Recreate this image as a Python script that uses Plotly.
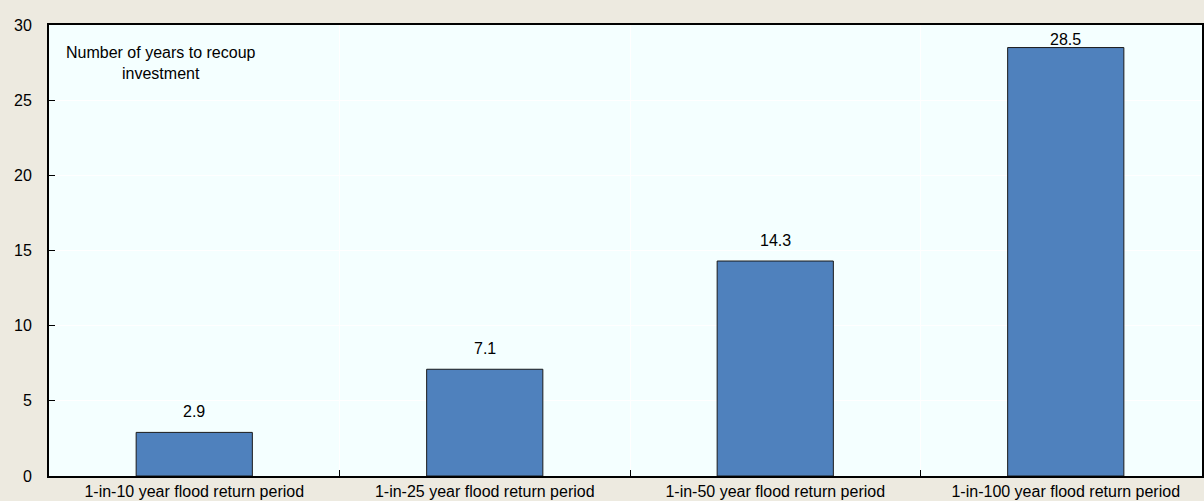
import plotly.graph_objects as go

categories = ["1-in-10 year flood return period", "1-in-25 year flood return period",
              "1-in-50 year flood return period", "1-in-100 year flood return period"]
values = [2.9, 7.1, 14.3, 28.5]
labels = ["2.9", "7.1", "14.3", "28.5"]
y_ticks = [0, 5, 10, 15, 20, 25, 30]

FONT = "Liberation Sans Narrow, Arial Narrow, Liberation Sans, Arial, sans-serif"
PAPER = "#EDEAE0"
PLOT = "#F4FFFF"
FS = 16

fig = go.Figure()
fig.add_trace(go.Bar(
    x=categories, y=values, width=0.4,
    marker=dict(color="#4F81BD", line=dict(color="#1a1a1a", width=1)),
    showlegend=False, hoverinfo="skip",
))

for c, v, t in zip(categories, values, labels):
    fig.add_annotation(x=c, y=v, text=t, showarrow=False, yanchor="middle",
                       yshift=21 if v < 27 else 8,
                       font=dict(family=FONT, size=FS, color="#000"))

fig.add_annotation(xref="paper", yref="paper", x=0.097, y=0.962, xanchor="center", yanchor="top",
                   text="Number of years to recoup<br>investment", showarrow=False, align="center",
                   font=dict(family=FONT, size=FS, color="#000"))

fig.update_layout(
    width=1204, height=501,
    margin=dict(l=49, r=0, t=25, b=25),
    paper_bgcolor=PAPER, plot_bgcolor=PLOT,
    font=dict(family=FONT, size=FS, color="#000"),
    bargap=0.6,
)
fig.update_xaxes(
    type="category", range=[-0.5, 3.469], tickson="boundaries",
    ticks="inside", ticklen=6, tickcolor="#000", tickwidth=1,
    showgrid=True, gridcolor="#FFFFFF", gridwidth=1,
    showline=True, linecolor="#000", linewidth=2, mirror=True,
    tickfont=dict(family=FONT, size=FS, color="#000"),
)
fig.update_yaxes(
    range=[0, 30], tickvals=y_ticks, ticks="inside", ticklen=6, tickcolor="#000", tickwidth=1,
    showgrid=True, gridcolor="#FFFFFF", gridwidth=1, zeroline=False,
    showline=True, linecolor="#000", linewidth=2, mirror=True,
    ticklabelstandoff=12,
    tickfont=dict(family=FONT, size=FS, color="#000"),
)

fig.write_html("out.html")
